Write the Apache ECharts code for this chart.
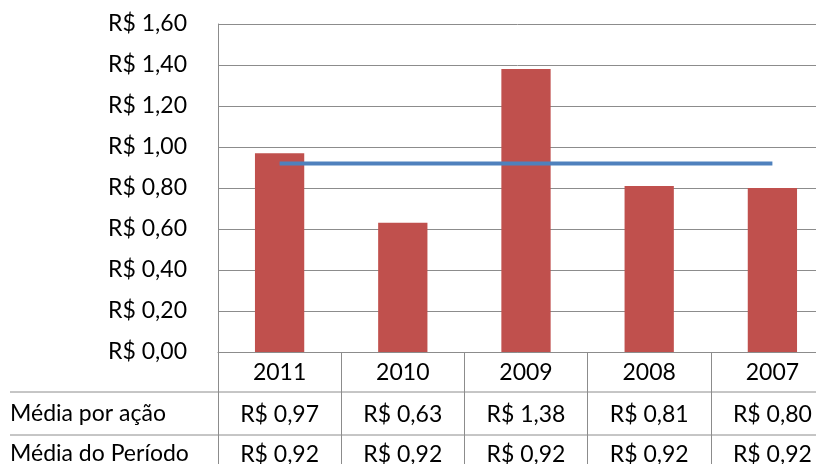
<!DOCTYPE html>
<html>
<head>
<meta charset="utf-8">
<script src="https://cdn.jsdelivr.net/npm/echarts@6/dist/echarts.min.js"></script>
<style>
  html, body { margin: 0; padding: 0; background: #fff; }
  #chart { width: 816px; height: 464px; }
</style>
</head>
<body>
<div id="chart"></div>
<script>
// dados do gráfico
const anos = ['2011', '2010', '2009', '2008', '2007']
const mediaPorAcao = [0.97, 0.63, 1.38, 0.81, 0.80]
const mediaPeriodo = [0.92, 0.92, 0.92, 0.92, 0.92]
const nomes = ['Média por ação', 'Média do Período']

const fonte = 'Lato'
const tam = 23
const cinza = '#8c8c8c'

// R$ 0,97
const reais = v => 'R$ ' + Number(v).toFixed(2).replace('.', ',')

const myChart = echarts.init(document.getElementById('chart'))

const eixoTabela = (valores, margem) => ({
  type: 'category',
  gridIndex: 0,
  position: 'bottom',
  data: anos,
  axisLine: { show: false },
  axisTick: { show: false },
  axisLabel: {
    margin: margem,
    verticalAlign: 'middle',
    fontFamily: fonte,
    fontSize: tam,
    color: '#000',
    formatter: (val, i) => reais(valores[i])
  }
})

myChart.setOption({
  animation: false,
  grid: {
    left: 218, top: 24, width: 616, height: 328,
    containLabel: false, outerBoundsMode: 'none'
  },
  xAxis: [
    {
      type: 'category',
      data: anos,
      axisLine: { show: true, lineStyle: { color: cinza, width: 1 } },
      axisTick: { show: true, interval: 0, length: 112, lineStyle: { color: cinza, width: 1 } },
      axisLabel: {
        margin: 21,
        verticalAlign: 'middle',
        fontFamily: fonte,
        fontSize: tam,
        color: '#000'
      }
    },
    eixoTabela(mediaPorAcao, 63),
    eixoTabela(mediaPeriodo, 103)
  ],
  yAxis: {
    type: 'value',
    min: 0,
    max: 1.6,
    interval: 0.2,
    axisLine: { show: true, lineStyle: { color: cinza } },
    axisTick: { show: false },
    splitLine: { lineStyle: { color: cinza } },
    axisLabel: {
      margin: 31,
      fontFamily: fonte,
      fontSize: tam,
      color: '#000',
      formatter: reais
    }
  },
  graphic: [
    { type: 'line', shape: { x1: 10, y1: 392, x2: 816, y2: 392 }, style: { stroke: cinza, lineWidth: 1 } },
    { type: 'line', shape: { x1: 10, y1: 435, x2: 816, y2: 435 }, style: { stroke: cinza, lineWidth: 1 } },
    { type: 'text', left: 10, top: 402, style: { text: nomes[0], font: tam + 'px ' + fonte, fill: '#000' } },
    { type: 'text', left: 10, top: 442, style: { text: nomes[1], font: tam + 'px ' + fonte, fill: '#000' } }
  ],
  series: [
    {
      name: nomes[0],
      type: 'bar',
      data: mediaPorAcao,
      barWidth: '40%',
      itemStyle: { color: '#C0504D' }
    },
    {
      name: nomes[1],
      type: 'line',
      data: mediaPeriodo,
      symbol: 'none',
      lineStyle: { color: '#4F81BD', width: 4 }
    }
  ]
})
</script>
</body>
</html>
